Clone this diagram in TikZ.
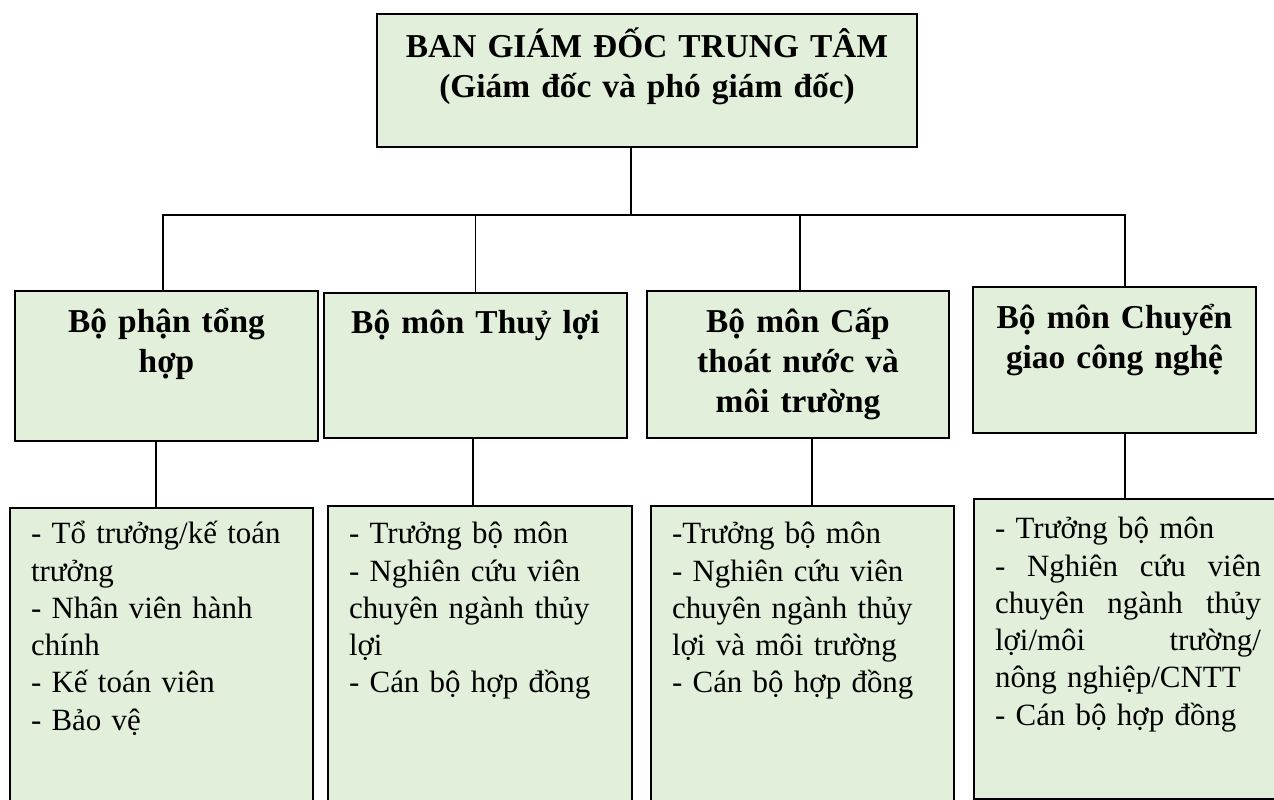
\documentclass[tikz,border=0pt]{standalone}
\usepackage{fontspec}
\setmainfont{Liberation Serif}
\usetikzlibrary{positioning}
\definecolor{xanhnhat}{RGB}{226,239,218}
\tikzset{
	every node/.style={
		font=\fontsize{17.6}{21.2}\selectfont
	},
	khung/.style={
		shape=rectangle,
		fill=xanhnhat,
		draw=black,
		line width=1.1pt,
		anchor=north,
		inner ysep=0pt
	},
	tieude/.style={
		khung,
		font=\fontsize{19}{22.7}\selectfont\bfseries,
		text centered,
		inner xsep=0pt,
		text height=0.84cm,
		text depth=2.1cm
	},
	danhsach/.style={
		khung,
		align=left,
		inner xsep=0.42cm,
		text width=5.22cm,
		text height=0.76cm,
		text depth=5.74cm
	},
	noi/.style={
		draw=black,
		line width=0.9pt
	}
}
% dong can deu hai ben
\newcommand{\dongdeu}[1]{\leavevmode\hbox to 5.32cm{#1}}

\begin{document}
\begin{tikzpicture}[x=0.02cm, y=-0.02cm]
	\useasboundingbox (0,0) rectangle (1274,800);
	\clip (0,0) rectangle (1274,800);
	
	% ban giam doc
	\node[tieude, text width=10.8cm, text height=0.88cm, text depth=1.78cm] (giamdoc) at (647,13) {BAN GIÁM ĐỐC TRUNG TÂM\\(Giám đốc và phó giám đốc)};
	
	% cac bo phan, bo mon
	\node[tieude, text width=6.06cm, text depth=2.16cm] (tonghop) at (166.5,290) {Bộ phận tổng\\hợp};
	\node[tieude, text width=6.06cm, text height=0.82cm, text depth=2.08cm] (thuyloi) at (475.5,292) {Bộ môn Thuỷ lợi};
	\node[tieude, text width=6.04cm] (capthoat) at (798,290) {Bộ môn Cấp\\thoát nước và\\môi trường};
	\node[tieude, text width=5.66cm, text depth=2.08cm] (chuyengiao) at (1114.5,286) {Bộ môn Chuyển\\giao công nghệ};
	
	% nhan su
	\node[danhsach, text height=0.72cm] (nstonghop) at (161.5,507) {- Tổ trưởng/kế toán\\trưởng\\- Nhân viên hành\\chính\\- Kế toán viên\\- Bảo vệ};
	\node[danhsach, text width=5.24cm] (nsthuyloi) at (480,505) {- Trưởng bộ môn\\- Nghiên cứu viên\\chuyên ngành thủy\\lợi\\- Cán bộ hợp đồng};
	\node[danhsach] (nscapthoat) at (802.5,505) {-Trưởng bộ môn\\- Nghiên cứu viên\\chuyên ngành thủy\\lợi và môi trường\\- Cán bộ hợp đồng};
	\node[danhsach, text width=5.32cm, text height=0.8cm, text depth=5.2cm] (nschuyengiao) at (1128,498) {- Trưởng bộ môn\\
		\dongdeu{-\hfill Nghiên\hfill cứu\hfill viên}\\
		\dongdeu{chuyên\hfill ngành\hfill thủy}\\
		\dongdeu{lợi/môi\hfill trường/}\\
		nông nghiệp/CNTT\\
		- Cán bộ hợp đồng};
	
	% duong noi
	\coordinate (nga) at (631,215);
	\draw[noi] (giamdoc.south -| nga) -- (nga);
	\draw[noi] ([xshift=-0.07cm]tonghop.north) |- (nga) -| ([xshift=0.21cm]chuyengiao.north);
	\draw[noi] (thuyloi.north) -- (thuyloi.north |- nga);
	\draw[noi] ([xshift=0.04cm]capthoat.north) -- ([xshift=0.04cm]capthoat.north |- nga);
	
	\draw[noi] ([xshift=-0.21cm]tonghop.south) -- ([xshift=-0.21cm]tonghop.south |- nstonghop.north);
	\draw[noi] ([xshift=-0.05cm]thuyloi.south) -- ([xshift=-0.05cm]thuyloi.south |- nsthuyloi.north);
	\draw[noi] ([xshift=0.28cm]capthoat.south) -- ([xshift=0.28cm]capthoat.south |- nscapthoat.north);
	\draw[noi] ([xshift=0.21cm]chuyengiao.south) -- ([xshift=0.21cm]chuyengiao.south |- nschuyengiao.north);
	
\end{tikzpicture}
\end{document}
